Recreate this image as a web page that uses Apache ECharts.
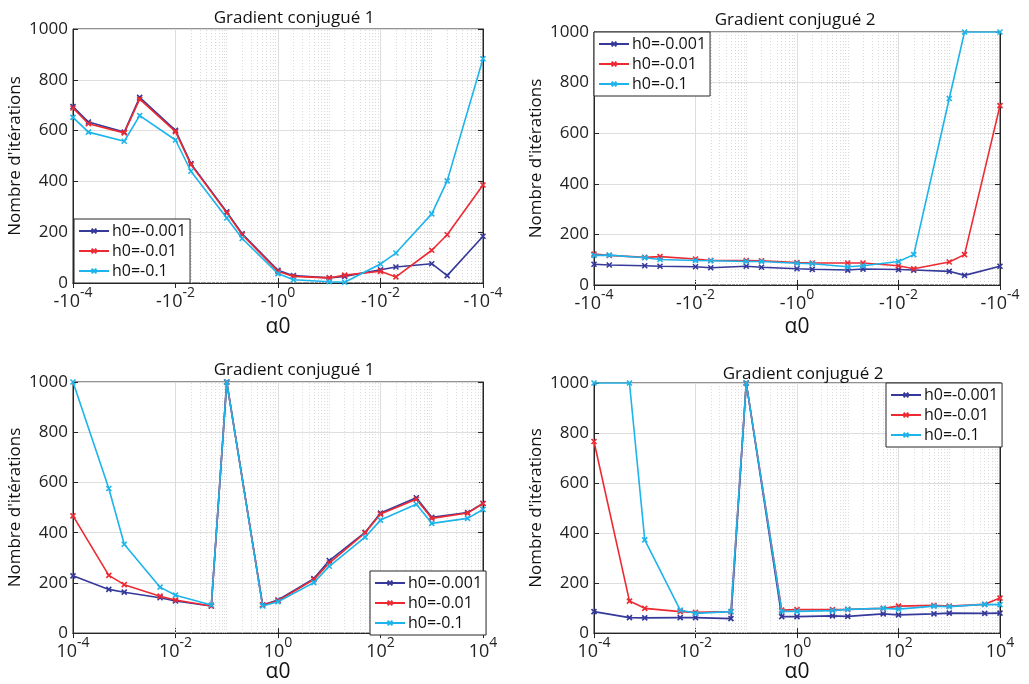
<!DOCTYPE html>
<html>
<head>
<meta charset="utf-8">
<script src="https://cdn.jsdelivr.net/npm/echarts@6/dist/echarts.min.js"></script>
<style>
  html, body { margin: 0; padding: 0; background: #fff; }
  #main { width: 1029px; height: 684px; }
</style>
</head>
<body>
<div id="main"></div>
<script>
// x positions (top row: mirrored negative alpha0, plotted on a log scale)
const xTop = [1e-4, 2e-4, 1e-3, 2e-3, 1e-2, 2e-2, 0.1, 0.2, 1, 2, 10, 20, 100, 200, 1000, 2000, 10000];
const xBottom = [1e-4, 5e-4, 1e-3, 5e-3, 1e-2, 5e-2, 0.1, 0.5, 1, 5, 10, 50, 100, 500, 1000, 5000, 10000];
const seriesNames = ["h0=-0.001", "h0=-0.01", "h0=-0.1"];
const titles = ["Gradient conjugué 1", "Gradient conjugué 2", "Gradient conjugué 1", "Gradient conjugué 2"];

// top left : Gradient conjugué 1
const tl001 = [695, 634, 594, 731, 601, 470, 280, 194, 50, 29, 20, 26, 52, 63, 76, 29, 184];
const tl01 = [689, 627, 591, 724, 596, 466, 276, 190, 46, 26, 20, 31, 46, 24, 129, 190, 386];
const tl1 = [652, 594, 558, 659, 563, 440, 256, 175, 37, 13, 5, 3, 75, 118, 272, 402, 883];
// top right : Gradient conjugué 2
const tr001 = [82, 79, 76, 74, 72, 68, 74, 70, 64, 62, 59, 63, 61, 59, 54, 38, 74];
const tr01 = [122, 117, 109, 112, 103, 97, 97, 96, 89, 87, 87, 87, 76, 64, 91, 120, 709];
const tr1 = [117, 118, 108, 101, 97, 96, 93, 93, 86, 84, 72, 76, 93, 120, 737, 1000, 1000];
// bottom left : Gradient conjugué 1
const bl001 = [228, 174, 163, 141, 128, 108, 1000, 112, 132, 217, 289, 401, 478, 539, 461, 480, 516];
const bl01 = [467, 230, 193, 147, 132, 108, 1000, 112, 129, 213, 279, 399, 474, 533, 457, 478, 516];
const bl1 = [1000, 576, 354, 183, 151, 112, 1000, 108, 125, 201, 266, 382, 450, 513, 437, 457, 492];
// bottom right : Gradient conjugué 2
const br001 = [86, 62, 61, 62, 62, 58, 1000, 66, 66, 69, 67, 77, 73, 77, 80, 79, 80];
const br01 = [766, 128, 99, 86, 83, 86, 1000, 92, 94, 94, 95, 99, 108, 111, 108, 115, 140];
const br1 = [1000, 1000, 373, 92, 79, 86, 1000, 87, 87, 90, 95, 99, 96, 108, 106, 115, 114];

const colors = ["#35399a", "#ed2a32", "#1cb4ea"];
const FONT = "Open Sans";
const INK = "#262626";

let myChart = echarts.init(document.getElementById("main"));

const panels = [
  { x: xTop, ys: [tl001, tl01, tl1], grid: { left: 73, top: 29, width: 410, height: 254 }, titleX: 289, titleY: 5, legend: { left: 74, top: 219 }, neg: true, nameGap: 34 },
  { x: xTop, ys: [tr001, tr01, tr1], grid: { left: 594, top: 32, width: 406, height: 253 }, titleX: 790, titleY: 7, legend: { left: 594, top: 32 }, neg: true, nameGap: 32 },
  { x: xBottom, ys: [bl001, bl01, bl1], grid: { left: 73, top: 382, width: 410, height: 253 }, titleX: 289, titleY: 357, legend: { left: 370, top: 571 }, neg: false, nameGap: 28 },
  { x: xBottom, ys: [br001, br01, br1], grid: { left: 594, top: 383, width: 406, height: 253 }, titleX: 798, titleY: 361, legend: { left: 886, top: 383 }, neg: false, nameGap: 28 }
];

// dotted minor grid positions of the log axis
let minorX = [];
for (let e = -4; e < 4; e++) {
  for (let k = 1; k <= 9; k++) {
    if (k === 1 && e % 2 === 0) continue;
    minorX.push({ xAxis: k * Math.pow(10, e) });
  }
}

const xMark = "path://M0,0 L10,10 M10,0 L0,10";

let option = {
  backgroundColor: "#fff",
  animation: false,
  textStyle: { fontFamily: FONT },
  title: [],
  grid: [],
  legend: [],
  xAxis: [],
  yAxis: [],
  series: []
};

panels.forEach((p, i) => {
  option.title.push({
    text: titles[i],
    left: p.titleX,
    top: p.titleY,
    textAlign: "center",
    textStyle: { fontFamily: FONT, fontSize: 17, fontWeight: "normal", color: "#111" }
  });
  option.grid.push(Object.assign({ show: true, borderColor: INK, borderWidth: 1, backgroundColor: "#fff" }, p.grid));
  option.legend.push({
    data: seriesNames,
    left: p.legend.left,
    top: p.legend.top,
    z: 30,
    orient: "vertical",
    backgroundColor: "#fff",
    borderColor: INK,
    borderWidth: 1,
    borderRadius: 0,
    padding: [3, 4, 3, 4],
    itemGap: 2,
    itemWidth: 30,
    itemHeight: 6,
    textStyle: { fontFamily: FONT, fontSize: 16, color: "#111", lineHeight: 18, padding: [0, 0, 0, -2] }
  });
  option.xAxis.push({
    type: "log",
    gridIndex: i,
    min: 1e-4,
    max: 1e4,
    interval: 2,
    name: "α0",
    nameLocation: "middle",
    nameGap: p.nameGap,
    nameTextStyle: { fontFamily: FONT, fontSize: 21, color: "#111" },
    axisLine: { lineStyle: { color: INK } },
    axisTick: { inside: true, length: 5, lineStyle: { color: INK } },
    splitLine: { show: true, lineStyle: { color: "#dedede", width: 1 } },
    axisLabel: {
      margin: 3,
      formatter: v => {
        let e = Math.round(Math.log10(v));
        if (p.neg) return "{b|-10}{s|" + (e === 0 ? "0" : "-" + Math.abs(e)) + "}";
        return "{b|10}{s|" + e + "}";
      },
      rich: {
        b: { fontFamily: FONT, fontSize: 18, color: "#222", lineHeight: 25, verticalAlign: "bottom" },
        s: { fontFamily: FONT, fontSize: 14, color: "#222", lineHeight: 15, verticalAlign: "top" }
      }
    }
  });
  option.xAxis.push({
    type: "log",
    gridIndex: i,
    min: 1e-4,
    max: 1e4,
    interval: 2,
    position: "top",
    axisLine: { lineStyle: { color: INK } },
    axisTick: { inside: true, length: 5, lineStyle: { color: INK } },
    axisLabel: { show: false },
    splitLine: { show: false }
  });
  option.yAxis.push({
    type: "value",
    gridIndex: i,
    min: 0,
    max: 1000,
    interval: 200,
    name: "Nombre d'itérations",
    nameLocation: "middle",
    nameGap: 49,
    nameTextStyle: { fontFamily: FONT, fontSize: 17, color: "#111" },
    axisLine: { show: true, lineStyle: { color: INK } },
    axisTick: { show: true, inside: true, length: 5, lineStyle: { color: INK } },
    splitLine: { show: true, lineStyle: { color: "#dedede", width: 1 } },
    axisLabel: { fontFamily: FONT, fontSize: 17, color: "#222", margin: 5, formatter: v => String(v) }
  });
  option.yAxis.push({
    type: "value",
    gridIndex: i,
    min: 0,
    max: 1000,
    interval: 200,
    position: "right",
    axisLine: { show: true, lineStyle: { color: INK } },
    axisTick: { show: true, inside: true, length: 5, lineStyle: { color: INK } },
    splitLine: { show: false },
    axisLabel: { show: false }
  });
  // minor dotted grid
  option.series.push({
    type: "line",
    name: "minor" + i,
    xAxisIndex: 2 * i,
    yAxisIndex: 2 * i,
    data: [],
    silent: true,
    z: 1,
    markLine: {
      silent: true,
      z: 1,
      symbol: "none",
      label: { show: false },
      lineStyle: { color: "#d9d9d9", type: [1, 2], width: 1 },
      data: minorX
    }
  });
  p.ys.forEach((ys, j) => {
    option.series.push({
      name: seriesNames[j],
      type: "line",
      xAxisIndex: 2 * i,
      yAxisIndex: 2 * i,
      data: p.x.map((x, k) => [x, ys[k]]),
      symbol: xMark,
      symbolSize: 5,
      showSymbol: true,
      lineStyle: { color: colors[j], width: 1.6 },
      itemStyle: { color: colors[j], borderColor: colors[j], borderWidth: 1.6 },
      z: 3 + j
    });
  });
});

myChart.setOption(option);
</script>
</body>
</html>
